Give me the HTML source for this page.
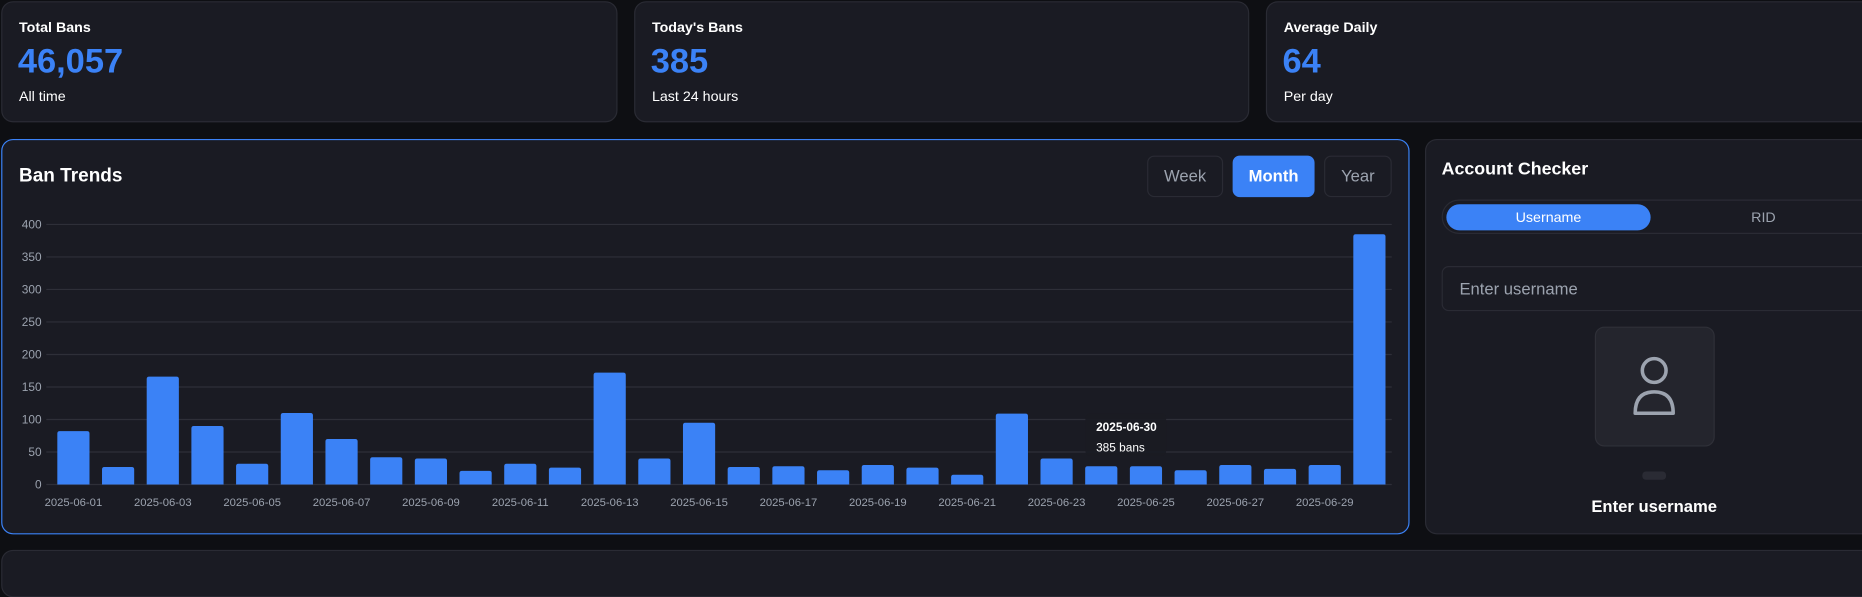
<!DOCTYPE html>
<html><head><meta charset="utf-8">
<style>
html,body{margin:0;padding:0;background:#0e0f13;width:1862px;height:563px;overflow:hidden;font-family:"Liberation Sans",sans-serif;}
#wrap{position:absolute;left:0;top:0;width:1568px;height:474px;transform:scale(1.1875);transform-origin:0 0;}
.card{position:absolute;background:#1a1b23;border:1px solid #2a2b34;border-radius:10px;box-sizing:border-box;}
.lbl{position:absolute;color:#fff;font-size:12px;font-weight:bold;}
.big{position:absolute;color:#3b82f6;font-size:29px;font-weight:bold;}
.sub{position:absolute;color:#fff;font-size:12px;}
.btn{position:absolute;top:131px;height:35px;border:1px solid #2a2b34;border-radius:6px;box-sizing:border-box;color:#9ca3af;font-size:14px;line-height:33px;text-align:center;background:#1a1b23;}
</style></head><body>
<div id="wrap">
  <div class="card" style="left:1px;top:1px;width:519px;height:102px">
    <div class="lbl" style="left:14px;top:14px">Total Bans</div>
    <div class="big" style="left:13px;top:34px">46,057</div>
    <div class="sub" style="left:14px;top:72px">All time</div>
  </div>
  <div class="card" style="left:534px;top:1px;width:518px;height:102px">
    <div class="lbl" style="left:14px;top:14px">Today's Bans</div>
    <div class="big" style="left:13px;top:34px">385</div>
    <div class="sub" style="left:14px;top:72px">Last 24 hours</div>
  </div>
  <div class="card" style="left:1066px;top:1px;width:520px;height:102px">
    <div class="lbl" style="left:14px;top:14px">Average Daily</div>
    <div class="big" style="left:13px;top:34px">64</div>
    <div class="sub" style="left:14px;top:72px">Per day</div>
  </div>

  <div class="card" style="left:1px;top:117px;width:1186px;height:333px;border-color:#3b82f6">
    <div style="position:absolute;left:14px;top:22px;color:#fff;font-size:16px;font-weight:bold">Ban Trends</div>
  </div>
  <div class="btn" style="left:966px;width:64px">Week</div>
  <div class="btn" style="left:1038px;width:69px;background:#3b82f6;border-color:#3b82f6;color:#fff;font-weight:bold">Month</div>
  <div class="btn" style="left:1115px;width:57px">Year</div>
  <svg id="chart" style="position:absolute;left:0;top:0" width="1190" height="450"></svg>

  <div class="card" style="left:1200px;top:117px;width:390px;height:333px">
    <div style="position:absolute;left:13px;top:16px;color:#fff;font-size:15px;font-weight:bold">Account Checker</div>
    <div style="position:absolute;left:13px;top:50px;width:370px;height:29px;border:1px solid #2a2b34;border-radius:15px;box-sizing:border-box">
      <div style="position:absolute;left:3px;top:3px;width:172px;height:22px;background:#3b82f6;border-radius:11px;color:#fff;font-size:12px;text-align:center;line-height:22px">Username</div>
      <div style="position:absolute;left:220px;top:3px;width:100px;height:22px;color:#9ca3af;font-size:12px;text-align:center;line-height:22px">RID</div>
    </div>
    <div style="position:absolute;left:13px;top:106px;width:370px;height:38px;border:1px solid #2a2b34;border-radius:6px;box-sizing:border-box;color:#9ca3af;font-size:14px;line-height:36px;padding-left:14px">Enter username</div>
    <div style="position:absolute;left:142px;top:157px;width:101px;height:101px;background:#24252d;border:1px solid #2f3038;border-radius:8px;box-sizing:border-box">
      <svg width="101" height="101" style="position:absolute;left:-1px;top:-1px">
        <circle cx="50" cy="37" r="10" fill="none" stroke="#9ca3af" stroke-width="3"/>
        <path d="M34 73 Q34 55 50 55 Q66 55 66 73 Z" fill="none" stroke="#9ca3af" stroke-width="3" stroke-linejoin="round"/>
      </svg>
    </div>
    <div style="position:absolute;left:182px;top:279px;width:20px;height:7px;background:#2a2b34;border-radius:3px"></div>
    <div style="position:absolute;left:92px;top:300px;width:200px;text-align:center;color:#fff;font-size:14px;font-weight:bold">Enter username</div>
  </div>

  <div class="card" style="left:1px;top:463px;width:1590px;height:40px"></div>
</div>
<script>
const categories=["2025-06-01","2025-06-02","2025-06-03","2025-06-04","2025-06-05","2025-06-06","2025-06-07","2025-06-08","2025-06-09","2025-06-10","2025-06-11","2025-06-12","2025-06-13","2025-06-14","2025-06-15","2025-06-16","2025-06-17","2025-06-18","2025-06-19","2025-06-20","2025-06-21","2025-06-22","2025-06-23","2025-06-24","2025-06-25","2025-06-26","2025-06-27","2025-06-28","2025-06-29","2025-06-30"];
const bans=[82,27,166,90,32,110,70,42,40,21,32,26,172,40,95,27,28,22,30,26,15,109,40,28,28,22,30,24,30,385];
const yTicks=[0,50,100,150,200,250,300,350,400];
const svg=document.getElementById('chart');
const NS='http://www.w3.org/2000/svg';
const x0=43,x1=1172,yTop=189,yBot=408,yMax=400;
const step=(x1-x0)/categories.length;
const xc=i=>x0+step*(i+0.5);
const y=v=>yBot-(v/yMax)*(yBot-yTop);
function mk(t,a){const e=document.createElementNS(NS,t);for(const k in a)e.setAttribute(k,a[k]);svg.appendChild(e);return e;}
yTicks.forEach(v=>{
  const g=mk('line',{x1:x0-4,x2:x1,y1:y(v),y2:y(v),stroke:'#2e2f38','stroke-width':1});
  
  
  const t=mk('text',{x:35,y:y(v)+3.5,fill:'#9ca3af','font-size':10,'text-anchor':'end','font-family':'Liberation Sans, sans-serif'});
  t.textContent=v;
  
  
});
bans.forEach((v,i)=>{
  const bw=step*0.72;
  const r=mk('path',{d:`M${xc(i)-bw/2},${yBot} V${y(v)+2} Q${xc(i)-bw/2},${y(v)} ${xc(i)-bw/2+2},${y(v)} H${xc(i)+bw/2-2} Q${xc(i)+bw/2},${y(v)} ${xc(i)+bw/2},${y(v)+2} V${yBot} Z`,fill:'#3b82f6'});
  
  
  if(i%2===0){
    const t=mk('text',{x:xc(i),y:426,fill:'#9ca3af','font-size':9.5,'text-anchor':'middle','font-family':'Liberation Sans, sans-serif'});
    t.textContent=categories[i];
    
    
  }
});
const last=bans.length-1;
const tip=mk('rect',{x:914,y:348,width:68,height:36,rx:4,fill:'#1a1b23',opacity:0.92});


const t1=mk('text',{x:923,y:363,fill:'#fff','font-size':10,'font-weight':'bold','font-family':'Liberation Sans, sans-serif'});
t1.textContent=categories[last];


const t2=mk('text',{x:923,y:380,fill:'#fff','font-size':10,'font-family':'Liberation Sans, sans-serif'});
t2.textContent=bans[last]+' bans';


</script>
</body></html>
